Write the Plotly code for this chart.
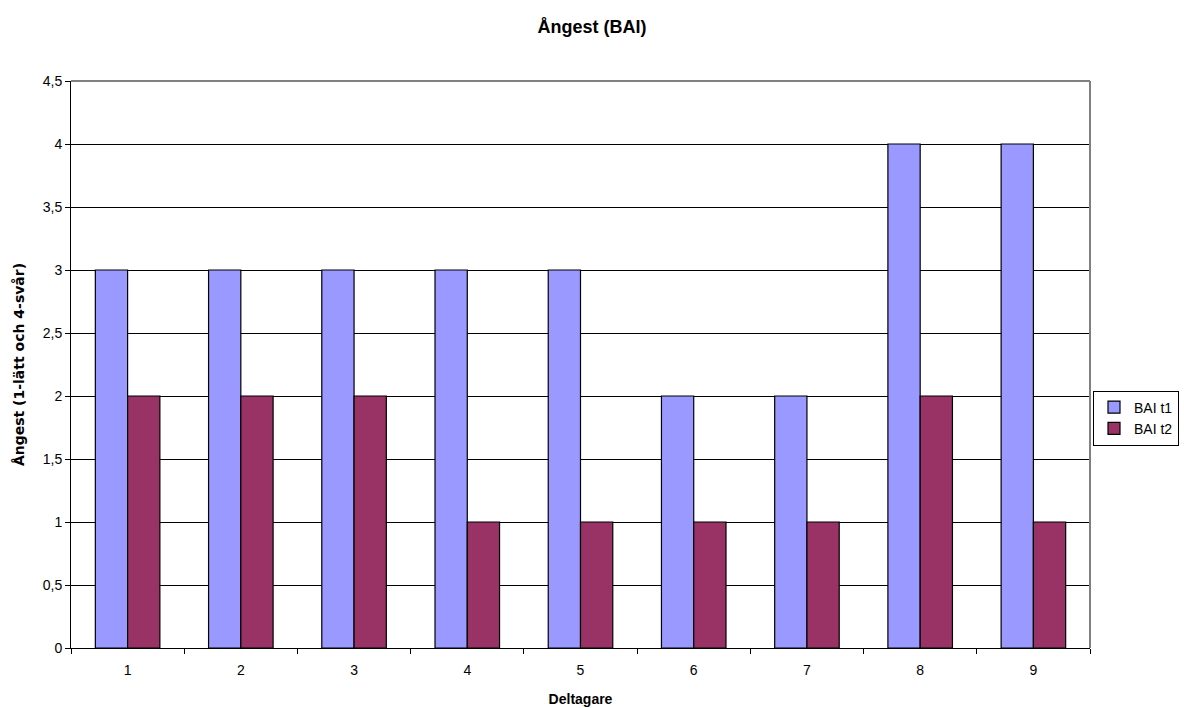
import plotly.graph_objects as go

participants = ["1", "2", "3", "4", "5", "6", "7", "8", "9"]
bai_t1 = [3, 3, 3, 3, 3, 2, 2, 4, 4]
bai_t2 = [2, 2, 2, 1, 1, 1, 1, 2, 1]
y_ticks = [0, 0.5, 1, 1.5, 2, 2.5, 3, 3.5, 4, 4.5]
y_tick_text = ["0", "0,5", "1", "1,5", "2", "2,5", "3", "3,5", "4", "4,5"]

FONT = "Liberation Sans, Arial, sans-serif"

fig = go.Figure()
fig.add_trace(go.Bar(x=participants, y=bai_t1, name="BAI t1",
                     marker=dict(color="#9999FF", line=dict(color="#000000", width=1.2))))
fig.add_trace(go.Bar(x=participants, y=bai_t2, name="BAI t2",
                     marker=dict(color="#993366", line=dict(color="#000000", width=1.2))))

fig.update_layout(
    width=1184, height=708,
    margin=dict(l=71, r=94, t=81, b=60),
    paper_bgcolor="white", plot_bgcolor="white",
    font=dict(family=FONT, size=14, color="#000000"),
    barmode="group", bargap=0.43, bargroupgap=0,
    title=dict(text="<b>Ångest (BAI)</b>", x=0.5, xanchor="center",
               y=1 - 27 / 708, yanchor="middle", font=dict(size=18)),
    showlegend=True,
    legend=dict(xref="container", x=1093 / 1184, xanchor="left",
                y=0.4056, yanchor="middle",
                bordercolor="#000000", borderwidth=1, bgcolor="white",
                font=dict(size=14), tracegroupgap=0, itemwidth=30),
    xaxis=dict(type="category", tickson="boundaries", ticks="outside", ticklen=5,
               tickcolor="#000000", showline=True, linecolor="#000000", linewidth=1,
               showgrid=False, tickfont=dict(size=14), ticklabelstandoff=9,
               automargin=False,
               title=dict(text="<b>Deltagare</b>", font=dict(size=14), standoff=17)),
    yaxis=dict(range=[0, 4.5], tickvals=y_ticks, ticktext=y_tick_text,
               ticks="outside", ticklen=5, tickcolor="#000000",
               showline=True, linecolor="#000000", linewidth=1,
               showgrid=True, gridcolor="#000000", gridwidth=1, zeroline=False,
               tickfont=dict(size=14), automargin=False,
               title=dict(text="<b>Ångest (1-lätt och 4-svår)</b>",
                          font=dict(family="DejaVu Sans, sans-serif", size=14),
                          standoff=14)),
)

# grey frame on the top and right of the plot area
fig.add_shape(type="line", xref="paper", yref="paper", x0=0, x1=1, y0=1, y1=1,
              line=dict(color="#808080", width=2), layer="above")
fig.add_shape(type="line", xref="paper", yref="paper", x0=1, x1=1, y0=0, y1=1,
              line=dict(color="#808080", width=2), layer="above")

fig.write_html("out.html")
